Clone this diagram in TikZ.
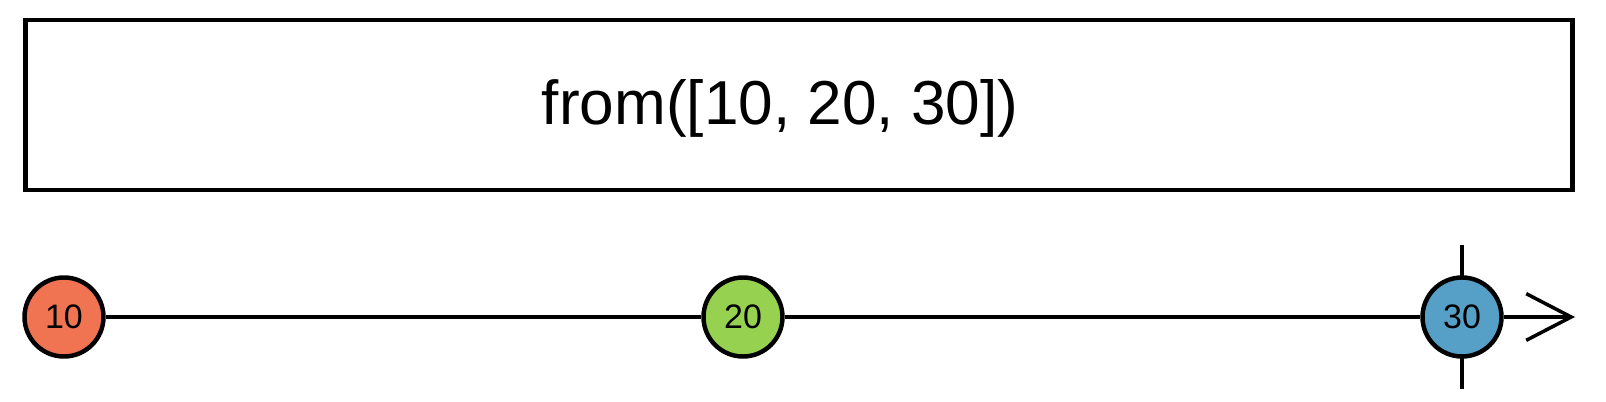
\documentclass[tikz,border=0pt]{standalone}
\usepackage{fontspec}
\setmainfont{Liberation Sans}
\usetikzlibrary{arrows.meta}
\definecolor{val10}{RGB}{240,115,82}
\definecolor{val20}{RGB}{150,210,80}
\definecolor{val30}{RGB}{86,160,200}

\begin{document}
\begin{tikzpicture}[x=0.03cm,y=-0.03cm]
\useasboundingbox (0,0) rectangle (1606,402);
\node[draw,line width=3.8pt,minimum width=46.4cm,minimum height=5.1cm,inner sep=0pt] (opbox) at (799,105) {};
\node[font=\fontsize{53}{60}\selectfont,inner sep=0pt] (optext) at (780,108) {from([10, 20, 30])};

\coordinate (ticktop) at (1462,245);
\coordinate (tickbot) at (1462,389);
\coordinate (tip) at (1575,317);
\draw[line width=3pt] (ticktop)--(tickbot);

\node[circle,draw,line width=3.8pt,fill=val10,inner sep=0pt,minimum size=2.37cm,font=\fontsize{29}{30}\selectfont] (v10) at (64,317) {10};
\node[circle,draw,line width=3.8pt,fill=val20,inner sep=0pt,minimum size=2.37cm,font=\fontsize{29}{30}\selectfont] (v20) at (743,317) {20};
\node[circle,draw,line width=3.8pt,fill=val30,inner sep=0pt,minimum size=2.37cm,font=\fontsize{29}{30}\selectfont] (v30) at (1462,317) {30};

\draw[line width=3pt] (v10)--(v20)--(v30);
\draw[line width=3pt,-{Straight Barb[length=1.35cm,width=1.4cm]}] (v30)--(tip);
\end{tikzpicture}
\end{document}
